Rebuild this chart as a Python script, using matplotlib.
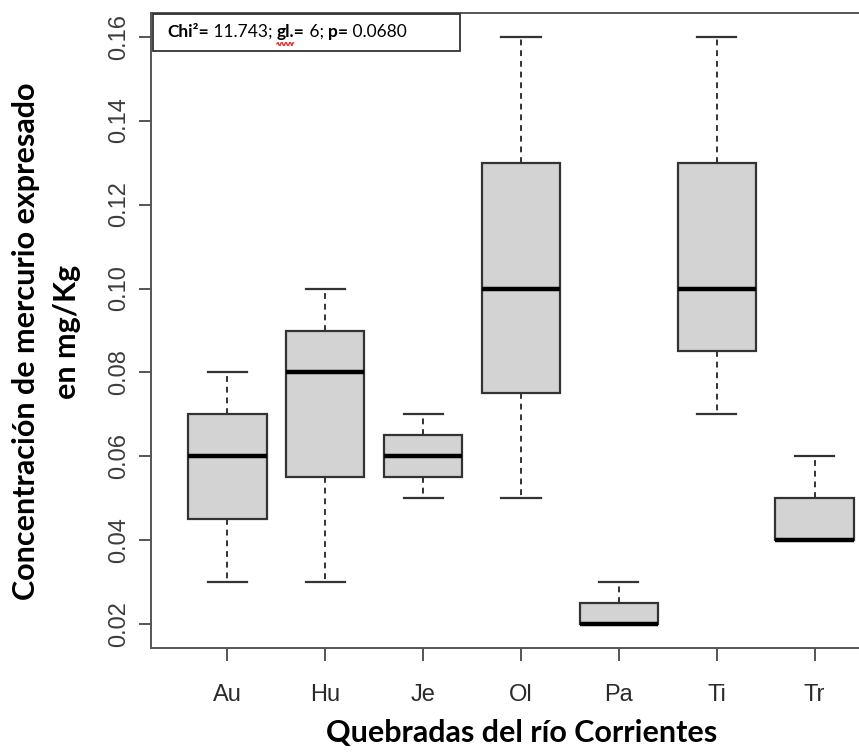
import matplotlib
matplotlib.use("Agg")
import numpy as np
import matplotlib.pyplot as plt
from matplotlib.patches import Rectangle
from matplotlib.lines import Line2D

categories = ["Au", "Hu", "Je", "Ol", "Pa", "Ti", "Tr"]
whisker_low = [0.030, 0.030, 0.050, 0.050, 0.020, 0.070, 0.040]
q1 =          [0.045, 0.055, 0.055, 0.075, 0.020, 0.085, 0.040]
median =      [0.060, 0.080, 0.060, 0.100, 0.020, 0.100, 0.040]
q3 =          [0.070, 0.090, 0.065, 0.130, 0.025, 0.130, 0.050]
whisker_high =[0.080, 0.100, 0.070, 0.160, 0.030, 0.160, 0.060]
yticks = [0.02, 0.04, 0.06, 0.08, 0.10, 0.12, 0.14, 0.16]
ytick_labels = ["0.02", "0.04", "0.06", "0.08", "0.10", "0.12", "0.14", "0.16"]
ylabel_lines = ["Concentración de mercurio expresado", "en mg/Kg"]
xlabel = "Quebradas del río Corrientes"
annotation = [("Chi²=", "bold"), (" 11.743; ", "normal"), ("gl.=", "bold"),
              (" 6; ", "normal"), ("p=", "bold"), (" 0.0680", "normal")]

W, H = 859, 753
fig = plt.figure(figsize=(W / 100, H / 100), dpi=100)
ax = fig.add_axes([151 / W, (H - 648) / H, (891 - 151) / W, (648 - 13) / H])

stats = []
for i, c in enumerate(categories):
    stats.append(dict(label=c, whislo=whisker_low[i], q1=q1[i], med=median[i],
                      q3=q3[i], whishi=whisker_high[i], fliers=[]))

edge = "#333333"
ax.bxp(stats, positions=range(1, len(categories) + 1), widths=0.8,
       patch_artist=True, showfliers=False,
       boxprops=dict(facecolor="#d3d3d3", edgecolor=edge, linewidth=1.6),
       medianprops=dict(color="black", linewidth=3.2, solid_capstyle="butt"),
       whiskerprops=dict(color=edge, linewidth=1.4, linestyle=(0, (3, 2.5))),
       capprops=dict(color=edge, linewidth=1.6), capwidths=0.4)

ax.set_xlim(0.22, 7.78)
ax.set_ylim(0.0144, 0.1656)
tick_font = ["Liberation Sans Narrow", "Liberation Sans", "DejaVu Sans"]
ax.set_yticks(yticks)
ax.set_yticklabels(ytick_labels, rotation=90, va="center", family=tick_font,
                   fontsize=17, color="#3c3c3c")
ax.set_xticks(range(1, len(categories) + 1))
ax.set_xticklabels(categories, family=tick_font, fontsize=17, color="#2a2a2a")
ax.tick_params(axis="both", length=9, width=1.4, color="#555555")
ax.tick_params(axis="y", pad=6)
ax.tick_params(axis="x", pad=17)
for s in ax.spines.values():
    s.set_color("#555555")
    s.set_linewidth(1.4)

bold_font = ["Lato", "DejaVu Sans"]
fig.text(26 / W, 1 - 341 / H, ylabel_lines[0], rotation=90,
         ha="center", va="center", fontsize=22, fontweight="bold", family=bold_font)
fig.text(67 / W, 1 - 332 / H, ylabel_lines[1], rotation=90,
         ha="center", va="center", fontsize=22, fontweight="bold", family=bold_font)
fig.text(522 / W, 1 - 733 / H, xlabel,
         ha="center", va="center", fontsize=22, fontweight="bold", family=bold_font)

# annotation box
fig.patches.append(Rectangle((153 / W, 1 - 51 / H), (460 - 153) / W, (51 - 14) / H,
                             transform=fig.transFigure, facecolor="white",
                             edgecolor="#333333", linewidth=1.3))
x = 167 / W
fig.canvas.draw()
r = fig.canvas.get_renderer()
for txt, wt in annotation:
    t = fig.text(x, 1 - 32 / H, txt, ha="left", va="center", fontsize=12.5,
                 fontweight=wt, family=bold_font)
    bb = t.get_window_extent(renderer=r)
    if txt.startswith("gl"):
        # red spell-check squiggle under "gl"
        x0 = bb.x0
        x1 = bb.x0 + bb.width * 0.6
        xs = np.linspace(x0, x1, 25)
        ys = (H - 44) + 1.3 * np.sign(np.sin((xs - x0) / 2.0 * np.pi))
        fig.lines.append(Line2D(xs / W, ys / H, transform=fig.transFigure,
                                color="#e03030", linewidth=0.9))
    x += bb.width / W

fig.savefig("out.png", dpi=100)
